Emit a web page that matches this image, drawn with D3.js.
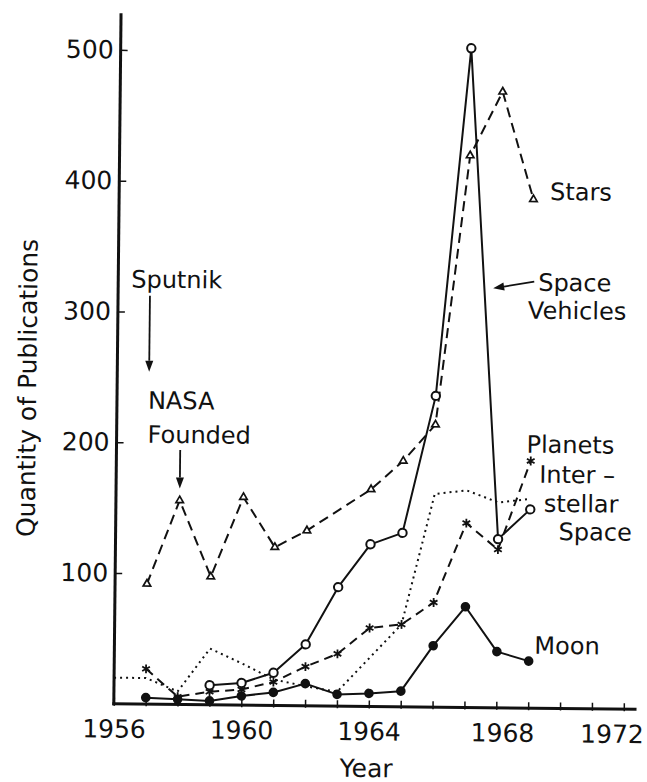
<!DOCTYPE html>
<html>
<head>
<meta charset="utf-8">
<script src="https://cdn.jsdelivr.net/npm/d3@7"></script>
<style>
  body { margin: 0; background: #fff; }
  text { font-family: "DejaVu Sans", "Liberation Sans", sans-serif; fill: #111; }
</style>
</head>
<body>
<svg id="chart" width="647" height="782"></svg>
<script>
// Publications per year, by subject
const starsYears = [1957, 1958, 1959, 1960, 1961, 1962, 1964, 1965, 1966, 1967, 1968, 1969];
const starsValues = [92, 156, 98, 159, 121, 134, 166, 188, 216, 422, 471, 389];

const vehicleYears = [1959, 1960, 1961, 1962, 1963, 1964, 1965, 1966, 1967, 1968, 1969];
const vehicleValues = [15, 17, 25, 47, 91, 124, 133, 238, 504, 129, 152];

const planetYears = [1957, 1958, 1959, 1960, 1961, 1962, 1963, 1964, 1965, 1966, 1967, 1968, 1969];
const planetValues = [27, 6, 10, 12, 18, 30, 40, 60, 63, 80, 141, 121, 189];

const moonYears = [1957, 1958, 1959, 1960, 1961, 1962, 1963, 1964, 1965, 1966, 1967, 1968, 1969];
const moonValues = [5, 4, 3, 7, 10, 17, 9, 10, 12, 47, 77, 43, 36];

const spaceYears = [1956, 1957, 1958, 1959, 1960, 1961, 1962, 1963, 1964, 1965, 1966, 1967, 1968, 1969];
const spaceValues = [20, 20, 10, 43, 32, 20, 15, 11, 37, 63, 163, 166, 157, 160];

const xTicks = d3.range(1956, 1973);
const xLabels = [1956, 1960, 1964, 1968, 1972];
const yTicks = [100, 200, 300, 400, 500];

const svg = d3.select("#chart");
// the whole drawing sits very slightly askew
const root = svg.append("g").attr("transform", "rotate(0.6, 370, 400)");

const x = d3.scaleLinear().domain([1956, 1972]).range([117, 627]);
const y = d3.scaleLinear().domain([0, 500]).range([706.5, 52.5]);
const TICK_FS = 25;
const LABEL_FS = 24;

// ---- axes ----
const xAxis = d3.axisBottom(x)
  .tickValues(xTicks)
  .tickSizeInner(-6).tickSizeOuter(0)
  .tickPadding(16)
  .tickFormat(d => xLabels.includes(d) ? String(d) : "");
const gx = root.append("g").attr("transform", `translate(0,${y(0)})`).call(xAxis);
gx.select(".domain").remove();
gx.selectAll(".tick line").attr("y2", -6).attr("y1", 2).attr("stroke", "#111").attr("stroke-width", 1.5);
gx.selectAll(".tick text").attr("font-size", TICK_FS).attr("font-family", null).attr("fill", "#111")
  .attr("dx", d => d === 1972 ? -12 : (d === 1968 ? 6 : 0));

const yAxis = d3.axisLeft(y)
  .tickValues(yTicks)
  .tickSizeInner(-7).tickSizeOuter(0)
  .tickPadding(7)
  .tickFormat(d3.format("d"));
const gy = root.append("g").attr("transform", `translate(${x(1956)},0)`).call(yAxis);
gy.select(".domain").remove();
gy.selectAll(".tick line").attr("stroke", "#111").attr("stroke-width", 1.5);
gy.selectAll(".tick text").attr("font-size", TICK_FS).attr("font-family", null).attr("fill", "#111");

root.append("line")
  .attr("x1", x(1956)).attr("x2", x(1956))
  .attr("y1", y(0) + 1.5).attr("y2", y(528))
  .attr("stroke", "#111").attr("stroke-width", 3);
root.append("line")
  .attr("x1", x(1956) - 1.5).attr("x2", x(1972.4))
  .attr("y1", y(0)).attr("y2", y(0))
  .attr("stroke", "#111").attr("stroke-width", 3);

root.append("text")
  .attr("transform", `translate(36,${(y(0) + y(500)) / 2 + 12}) rotate(-90)`)
  .attr("text-anchor", "middle").attr("font-size", TICK_FS)
  .text("Quantity of Publications");
root.append("text")
  .attr("x", (x(1956) + x(1972)) / 2 - 2).attr("y", 777)
  .attr("text-anchor", "middle").attr("font-size", TICK_FS)
  .text("Year");

// ---- series ----
const pts = (ys, vs) => ys.map((yr, i) => [yr, vs[i]]);
const line = d3.line().x(d => x(d[0])).y(d => y(d[1]));

function drawLine(data, dash) {
  root.append("path")
    .datum(data)
    .attr("d", line)
    .attr("fill", "none")
    .attr("stroke", "#111")
    .attr("stroke-width", 2)
    .attr("stroke-dasharray", dash)
    .attr("stroke-linejoin", "round");
}

const stars = pts(starsYears, starsValues);
const vehicles = pts(vehicleYears, vehicleValues);
const planets = pts(planetYears, planetValues);
const moon = pts(moonYears, moonValues);
const space = pts(spaceYears, spaceValues);

drawLine(space, "2,4");
drawLine(stars, "10,6");
drawLine(planets, "9,6");
drawLine(vehicles, null);
drawLine(moon, null);

// markers
root.append("g").selectAll("path").data(stars).join("path")
  .attr("transform", d => `translate(${x(d[0])},${y(d[1])})`)
  .attr("d", d3.symbol(d3.symbolTriangle2, 40))
  .attr("fill", "#fff").attr("stroke", "#111").attr("stroke-width", 1.7);

root.append("g").selectAll("path").data(planets).join("path")
  .attr("transform", d => `translate(${x(d[0])},${y(d[1])})`)
  .attr("d", d3.symbol(d3.symbolAsterisk, 55))
  .attr("fill", "none").attr("stroke", "#111").attr("stroke-width", 1.8);

root.append("g").selectAll("circle").data(vehicles).join("circle")
  .attr("cx", d => x(d[0])).attr("cy", d => y(d[1])).attr("r", 4.2)
  .attr("fill", "#fff").attr("stroke", "#111").attr("stroke-width", 2);

root.append("g").selectAll("circle").data(moon).join("circle")
  .attr("cx", d => x(d[0])).attr("cy", d => y(d[1])).attr("r", 4.8)
  .attr("fill", "#111");

// ---- annotations ----
function arrow(x1, y1, x2, y2) {
  const a = Math.atan2(y2 - y1, x2 - x1);
  const L = 11, W = 4;
  const bx = x2 - L * Math.cos(a), by = y2 - L * Math.sin(a);
  root.append("line")
    .attr("x1", x1).attr("y1", y1).attr("x2", bx).attr("y2", by)
    .attr("stroke", "#111").attr("stroke-width", 1.8);
  root.append("path")
    .attr("d", `M${x2},${y2}L${bx + W * Math.sin(a)},${by - W * Math.cos(a)}L${bx - W * Math.sin(a)},${by + W * Math.cos(a)}Z`)
    .attr("fill", "#111");
}

const label = (tx, ty, s) => root.append("text")
  .attr("x", tx).attr("y", ty).attr("font-size", LABEL_FS).text(s);

label(130, 290, "Sputnik");
arrow(x(1957), 298, x(1957), 374);

label(148, 411, "NASA");
label(148, 445, "Founded");
arrow(x(1958), 452, x(1958), y(156) - 12);

label(548, 198, "Stars");
label(537, 289, "Space");
label(527, 317, "Vehicles");
arrow(533, 280, 492, 287);

label(527, 451, "Planets");
label(540, 481, "Inter –");
label(545, 510, "stellar");
label(560, 538, "Space");
label(537, 652, "Moon");
</script>
</body>
</html>
